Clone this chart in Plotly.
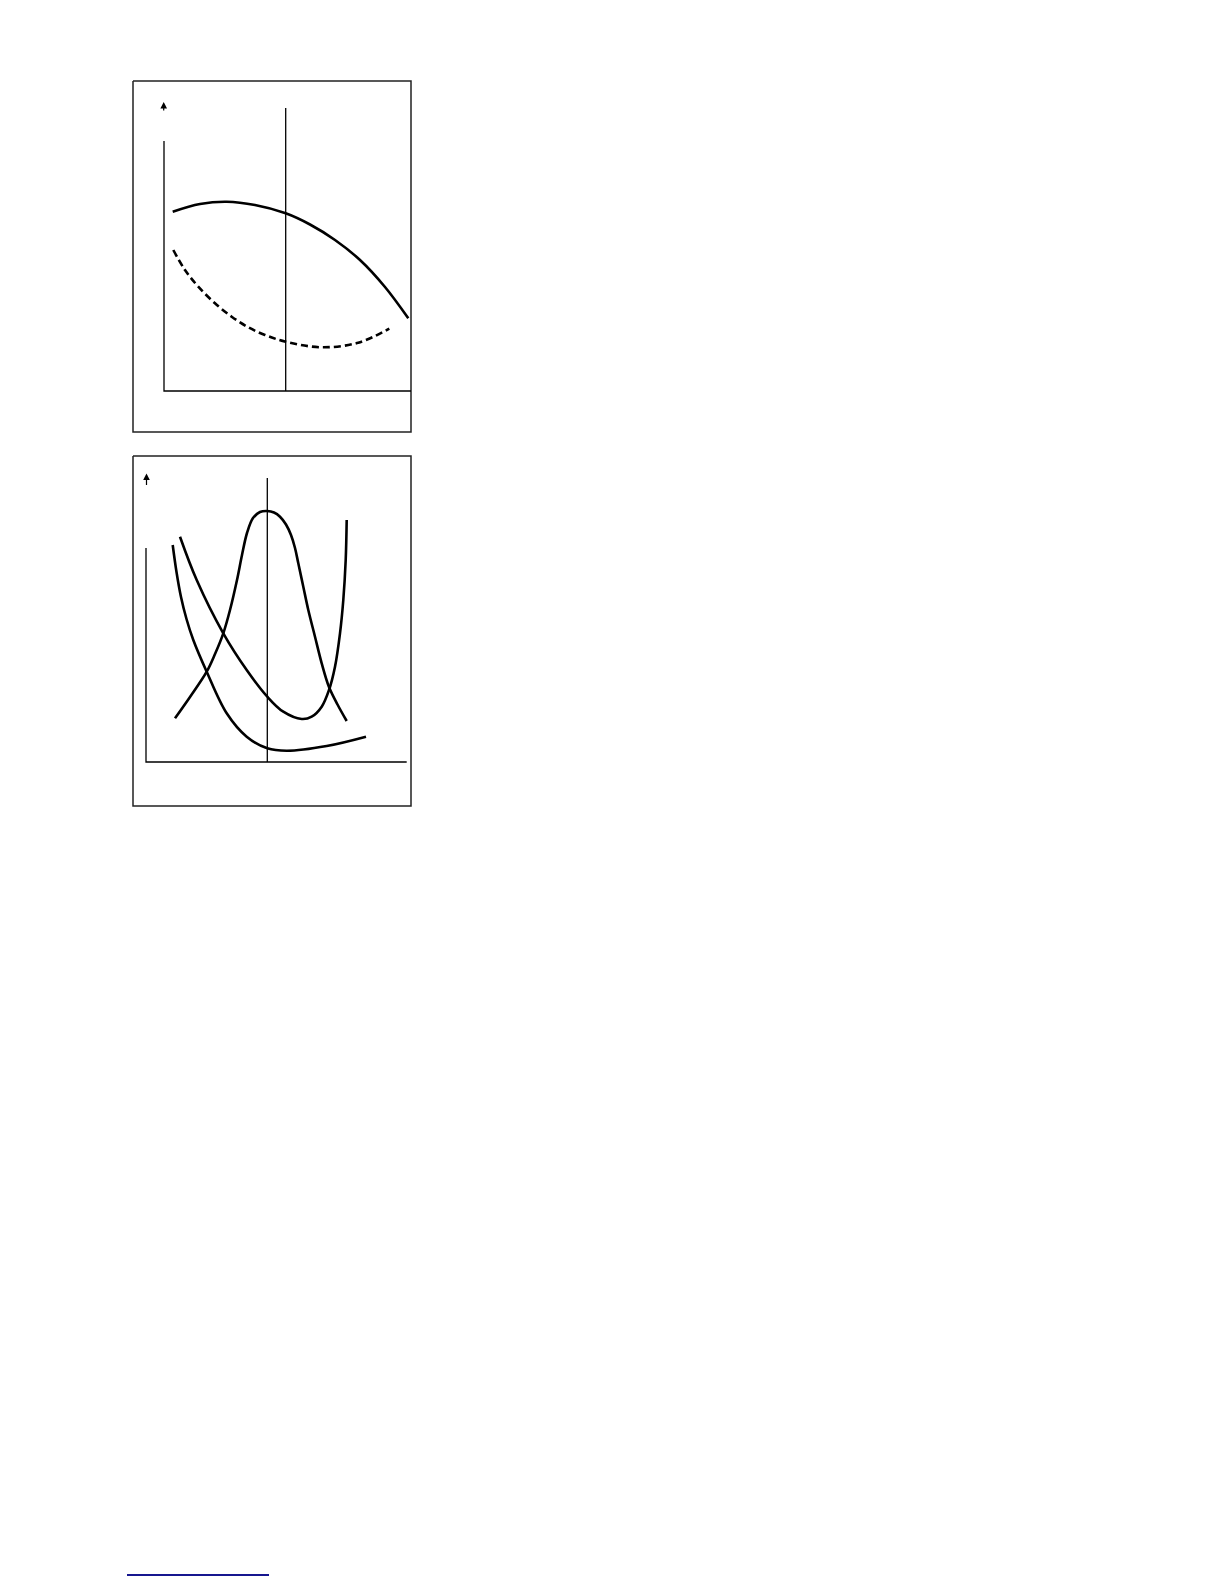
import plotly.graph_objects as go

# everything in pixel units (x right, y down)
W, H = 1224, 1584
BODY = 8  # the browser's default body margin pushes the figure in by 8px

# --- panel 1 (top) ---
box1_x = [133, 411, 411, 133, 133]
box1_y = [81, 81, 432, 432, 81]
axes1_x = [164, 164, 411]
axes1_y = [141, 391, 391]
vline1_x = [285.7, 285.7]
vline1_y = [108, 391]
arrow1 = (163.7, 112, 102)

solid_x = [172.7, 200, 226.7, 255, 285.7, 310, 335, 360, 385, 408.3]
solid_y = [211.7, 204, 201.7, 205, 213.3, 224.5, 240, 260, 287, 318.3]

dash_x = [173.3, 185, 198.3, 215, 231.7, 248.3, 265, 285.7, 321.7, 358.3,
          389.3]
dash_y = [250, 270, 286.7, 303.3, 316.7, 327.3, 335, 341.7, 347.3, 342.7,
          328.7]

# --- panel 2 (bottom) ---
box2_x = [133, 411, 411, 133, 133]
box2_y = [456, 456, 806, 806, 456]
axes2_x = [146, 146, 406.7]
axes2_y = [548, 762, 762]
vline2_x = [267.3, 267.3]
vline2_y = [478, 762]
arrow2 = (146.5, 486.5, 473.5)

bell_x = [175, 190, 206.7, 215, 223.3, 230, 237, 242, 247, 253, 260, 267.3,
          274, 280, 286, 291, 295, 298.3, 303.3, 308.3, 315, 321.7, 329,
          337.5, 346.7]
bell_y = [718.3, 697, 671.7, 654, 633.3, 610, 580, 555, 533, 518, 512, 511,
          512.5, 516.7, 524.5, 535, 548, 563.3, 586.7, 610, 636.7, 663.3, 687,
          704.5, 721]

steep_x = [172.7, 176.5, 181, 186.5, 193.3, 206.7, 226.7, 246.7, 267.3, 286.7,
           326.7, 366]
steep_y = [545, 572, 597, 619, 640, 671.7, 713.3, 736.7, 748.3, 750.7,
           746, 736.7]

ucurve_x = [180, 196.7, 223.3, 246.7, 267.3, 283.3, 301.7, 311.7, 321.7, 329,
            335, 340, 343.3, 345.7, 346.7]
ucurve_y = [536.7, 580, 633.3, 670, 696.7, 711.7, 719, 716.7, 706.7, 690,
            666.7, 633.3, 600, 560, 520]

# footnote rule at the bottom of the page
rule_x = [127, 269]
rule_y = [1575, 1575]

fig = go.Figure()


def add_line(x, y, width, color="black", dash=None):
    fig.add_trace(go.Scatter(x=x, y=y, mode="lines", hoverinfo="skip",
                             line=dict(color=color, width=width, dash=dash,
                                       shape="spline", smoothing=1.0)))


def add_poly(x, y, width, color="black"):
    fig.add_trace(go.Scatter(x=x, y=y, mode="lines", hoverinfo="skip",
                             line=dict(color=color, width=width)))


for bx, by in [(box1_x, box1_y), (box2_x, box2_y)]:
    add_poly(bx, by, 1.5, "#222222")
for ax_, ay_ in [(axes1_x, axes1_y), (axes2_x, axes2_y)]:
    add_poly(ax_, ay_, 1.3)
for vx, vy in [(vline1_x, vline1_y), (vline2_x, vline2_y)]:
    add_poly(vx, vy, 1.3)

add_line(solid_x, solid_y, 2.6)
add_line(dash_x, dash_y, 2.6, dash="7px,4px")
add_line(bell_x, bell_y, 2.6)
add_line(steep_x, steep_y, 2.6)
add_line(ucurve_x, ucurve_y, 2.6)

add_poly(rule_x, rule_y, 2, "#16168f")

for x0, ytail, yhead in [arrow1, arrow2]:
    fig.add_annotation(x=x0, y=yhead, ax=x0, ay=ytail, xref="x", yref="y",
                       axref="x", ayref="y", text="", showarrow=True,
                       arrowhead=2, arrowsize=1.1, arrowwidth=1.2,
                       arrowcolor="black")

fig.update_layout(
    width=W - BODY, height=H - BODY,
    margin=dict(l=0, r=0, t=0, b=0),
    paper_bgcolor="white", plot_bgcolor="white",
    showlegend=False,
    xaxis=dict(range=[BODY, W], visible=False, fixedrange=True),
    yaxis=dict(range=[H, BODY], visible=False, fixedrange=True),
)

fig.write_html("out.html")
